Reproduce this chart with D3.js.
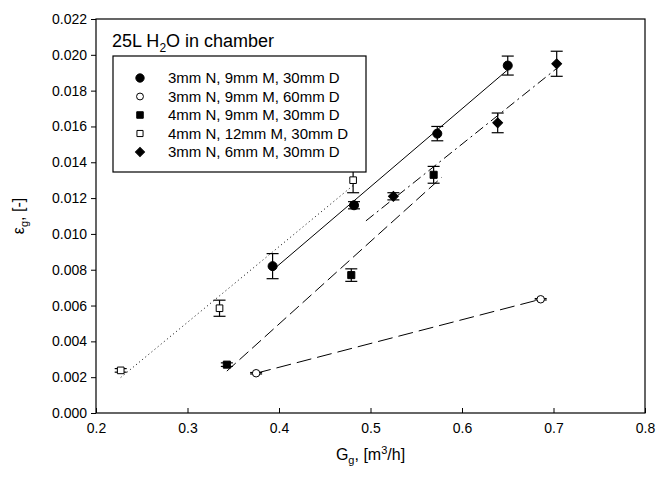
<!DOCTYPE html>
<html>
<head>
<meta charset="utf-8">
<script src="https://cdn.jsdelivr.net/npm/d3@7.9.0/dist/d3.min.js"></script>
<style>
  body { margin: 0; background: #fff; }
  svg { font-family: "Liberation Sans", Arial, sans-serif; }
</style>
</head>
<body>
<svg id="chart" width="656" height="478"></svg>
<script>
// tick labels
const xTicks = [0.2, 0.3, 0.4, 0.5, 0.6, 0.7, 0.8];
const yTicks = [0, 0.002, 0.004, 0.006, 0.008, 0.010, 0.012, 0.014, 0.016, 0.018, 0.020, 0.022];

// legend labels
const seriesNames = [
  '3mm N, 9mm M, 30mm D',
  '3mm N, 9mm M, 60mm D',
  '4mm N, 9mm M, 30mm D',
  '4mm N, 12mm M, 30mm D',
  '3mm N, 6mm M, 30mm D'
];

// data: gas flow, gas holdup, error
const fullCircleX = [0.393, 0.482, 0.573, 0.650];
const fullCircleY = [0.0082, 0.0116, 0.0156, 0.0194];
const fullCircleErr = [0.0007, 0.0002, 0.0004, 0.00053];

const openCircleX = [0.375, 0.686];
const openCircleY = [0.00222, 0.00635];
const openCircleErr = [0.00004, 0.00004];

const fullSquareX = [0.343, 0.479, 0.569];
const fullSquareY = [0.0027, 0.0077, 0.0133];
const fullSquareErr = [0.0001, 0.00035, 0.00047];

const openSquareX = [0.227, 0.335, 0.481];
const openSquareY = [0.00238, 0.00585, 0.0130];
const openSquareErr = [0.0001, 0.00045, 0.0007];

const diamondX = [0.525, 0.639, 0.7035];
const diamondY = [0.0121, 0.0162, 0.0195];
const diamondErr = [0.0002, 0.00055, 0.0007];

// x-range over which each fitted line is drawn
const fitFrom = [0.393, 0.375, 0.343, 0.227, 0.495];
const fitTo = [0.650, 0.686, 0.578, 0.481, 0.7035];

const width = 656, height = 478;
const margin = { top: 19, right: 11, bottom: 65, left: 96 };

const svg = d3.select('#chart');

const x = d3.scaleLinear().domain([0.2, 0.8]).range([margin.left, width - margin.right]);
const y = d3.scaleLinear().domain([0, 0.022]).range([height - margin.bottom, margin.top]);

const series = [
  { name: seriesNames[0], xs: fullCircleX, ys: fullCircleY, err: fullCircleErr, symbol: d3.symbolCircle, size: 64, rot: 0, fill: '#000', dash: null },
  { name: seriesNames[1], xs: openCircleX, ys: openCircleY, err: openCircleErr, symbol: d3.symbolCircle, size: 44, rot: 0, fill: '#fff', dash: '15,6' },
  { name: seriesNames[2], xs: fullSquareX, ys: fullSquareY, err: fullSquareErr, symbol: d3.symbolSquare, size: 50, rot: 0, fill: '#000', dash: '12,5' },
  { name: seriesNames[3], xs: openSquareX, ys: openSquareY, err: openSquareErr, symbol: d3.symbolSquare, size: 44, rot: 0, fill: '#fff', dash: '1,3' },
  { name: seriesNames[4], xs: diamondX, ys: diamondY, err: diamondErr, symbol: d3.symbolSquare, size: 48, rot: 45, fill: '#000', dash: '10,4,2,4' }
];

// least squares line through each series
function fit(xs, ys) {
  const mx = d3.mean(xs), my = d3.mean(ys);
  const sxy = d3.sum(xs, (v, i) => (v - mx) * (ys[i] - my));
  const sxx = d3.sum(xs, v => (v - mx) * (v - mx));
  const b = sxy / sxx;
  return v => my + b * (v - mx);
}

// axes
const xAxis = d3.axisBottom(x).tickValues(xTicks).tickFormat(d3.format('.1f')).tickSize(-5).tickPadding(10);
const gx = svg.append('g').attr('transform', `translate(0,${height - margin.bottom})`).call(xAxis);
const yAxis = d3.axisLeft(y).tickValues(yTicks).tickFormat(d3.format('.3f')).tickSize(5).tickPadding(4);
const gy = svg.append('g').attr('transform', `translate(${margin.left},0)`).call(yAxis);

[gx, gy].forEach(g => {
  g.select('.domain').remove();
  g.selectAll('.tick line').attr('stroke', '#000');
  g.selectAll('.tick text').attr('font-size', 14).attr('fill', '#000');
});

// frame
svg.append('rect')
  .attr('x', margin.left).attr('y', margin.top)
  .attr('width', width - margin.left - margin.right)
  .attr('height', height - margin.top - margin.bottom)
  .attr('fill', 'none').attr('stroke', '#000').attr('stroke-width', 1.2);

// regression lines
series.forEach((s, i) => {
  const f = fit(s.xs, s.ys);
  svg.append('line')
    .attr('x1', x(fitFrom[i])).attr('y1', y(f(fitFrom[i])))
    .attr('x2', x(fitTo[i])).attr('y2', y(f(fitTo[i])))
    .attr('stroke', '#000').attr('stroke-width', 1)
    .attr('stroke-dasharray', s.dash);
});

// error bars + markers
series.forEach(s => {
  const g = svg.append('g');
  s.xs.forEach((xv, i) => {
    const cx = x(xv), top = y(s.ys[i] + s.err[i]), bot = y(s.ys[i] - s.err[i]);
    g.append('line').attr('x1', cx).attr('x2', cx).attr('y1', top).attr('y2', bot)
      .attr('stroke', '#000').attr('stroke-width', 1.2);
    [top, bot].forEach(v => {
      g.append('line').attr('x1', cx - 6).attr('x2', cx + 6).attr('y1', v).attr('y2', v)
        .attr('stroke', '#000').attr('stroke-width', 1.2);
    });
    g.append('path')
      .attr('d', d3.symbol().type(s.symbol).size(s.size)())
      .attr('transform', `translate(${cx},${y(s.ys[i])}) rotate(${s.rot})`)
      .attr('fill', s.fill).attr('stroke', '#000').attr('stroke-width', 1);
  });
});

// legend
const title = svg.append('text').attr('x', 112).attr('y', 47).attr('font-size', 18).attr('fill', '#000');
title.append('tspan').text('25L H');
title.append('tspan').attr('font-size', 12).attr('dy', 5).text('2');
title.append('tspan').attr('dy', -5).text('O in chamber');

svg.append('rect')
  .attr('x', 113).attr('y', 56).attr('width', 253).attr('height', 116)
  .attr('fill', '#fff').attr('stroke', '#000').attr('stroke-width', 1.2);

series.forEach((s, i) => {
  const ly = 78 + i * 18.5;
  svg.append('path')
    .attr('d', d3.symbol().type(s.symbol).size(s.size * 0.85)())
    .attr('transform', `translate(140,${ly}) rotate(${s.rot})`)
    .attr('fill', s.fill).attr('stroke', '#000').attr('stroke-width', 1);
  svg.append('text').attr('x', 168).attr('y', ly + 5).attr('font-size', 15).attr('fill', '#000').text(s.name);
});

// axis titles
const xl = svg.append('text').attr('x', (margin.left + width - margin.right) / 2).attr('y', 460)
  .attr('text-anchor', 'middle').attr('font-size', 16).attr('fill', '#000');
xl.append('tspan').text('G');
xl.append('tspan').attr('font-size', 11).attr('dy', 4).text('g');
xl.append('tspan').attr('dy', -4).text(', [m');
xl.append('tspan').attr('font-size', 11).attr('dy', -6).text('3');
xl.append('tspan').attr('dy', 6).text('/h]');

const yl = svg.append('text').attr('transform', `translate(24,${(margin.top + height - margin.bottom) / 2}) rotate(-90)`)
  .attr('text-anchor', 'middle').attr('font-size', 16).attr('fill', '#000');
yl.append('tspan').text('ε');
yl.append('tspan').attr('font-size', 11).attr('dy', 4).text('g');
yl.append('tspan').attr('dy', -4).text(', [-]');
</script>
</body>
</html>
